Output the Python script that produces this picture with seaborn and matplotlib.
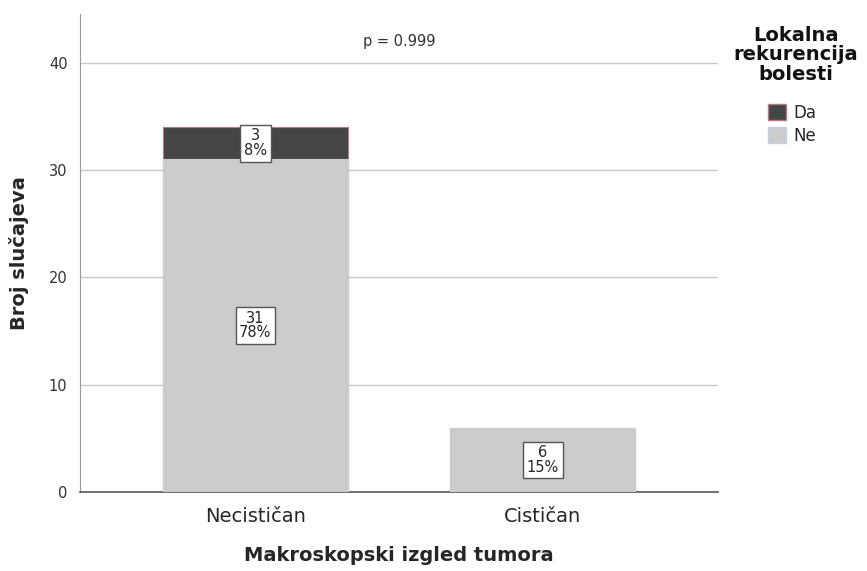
import pandas as pd
import numpy as np
import matplotlib.pyplot as plt
import seaborn as sns
from matplotlib.patches import Patch

categories = ['Necističan', 'Cističan']
da_counts = [3, 0]
ne_counts = [31, 6]
total_n = 40

sns.set_style('white')
plt.rcParams['font.family'] = ['DejaVu Sans']

df = pd.DataFrame({'kategorija': categories, 'Da': da_counts, 'Ne': ne_counts})
df['ukupno'] = df['Da'] + df['Ne']

fig = plt.figure(figsize=(8.67, 5.71), dpi=100)
ax = fig.add_axes([0.0923, 0.138, 0.736, 0.837])

# horizontal grid behind bars
for v in [10, 20, 30, 40]:
    ax.axhline(v, color='#c8c8c8', lw=1, zorder=0)

# stacked bars: total (Da on top) then Ne over it
sns.barplot(data=df, x='kategorija', y='ukupno', color='#444546', width=0.645,
            edgecolor='#b07d86', linewidth=0.8, ax=ax, zorder=2)
sns.barplot(data=df, x='kategorija', y='Ne', color='#cccccc', width=0.645,
            edgecolor='#cccccc', linewidth=0.8, ax=ax, zorder=3)
for p in ax.patches:
    p.set_alpha(1)

box = dict(boxstyle='square,pad=0.25', fc='white', ec='#555555', lw=1)
for i, (da, ne) in enumerate(zip(df['Da'], df['Ne'])):
    if da > 0:
        ax.text(i, ne + da / 2, f'{da}\n{round(100 * da / total_n)}%', ha='center', va='center',
                fontsize=10.5, linespacing=0.95, bbox=box, zorder=5)
    ax.text(i, ne / 2, f'{ne}\n{round(100 * ne / total_n)}%', ha='center', va='center',
            fontsize=10.5, linespacing=0.95, bbox=box, zorder=5)

ax.text(0.5, 42.0, 'p = 0.999', ha='center', va='center', fontsize=10.5, color='#333333')

ax.set_xlim(-0.61, 1.61)
ax.set_ylim(0, 44.5)
ax.set_yticks([0, 10, 20, 30, 40])
ax.tick_params(axis='y', labelsize=10.5, colors='#333333', length=0, pad=9)
ax.tick_params(axis='x', labelsize=14, length=0, pad=11)
ax.set_xlabel('Makroskopski izgled tumora', fontsize=14, fontweight='bold', labelpad=14)
ax.set_ylabel('Broj slučajeva', fontsize=14, fontweight='bold', labelpad=14)

for s in ['top', 'right']:
    ax.spines[s].set_visible(False)
ax.spines['left'].set_color('#999999')
ax.spines['bottom'].set_color('#555555')
ax.spines['bottom'].set_linewidth(1.2)

fig.text(796 / 867, 1 - 55 / 571, 'Lokalna\nrekurencija\nbolesti', ha='center', va='center',
         multialignment='center', fontsize=14, fontweight='bold', linespacing=1.05, color='#111111')

handles = [Patch(facecolor='#444546', edgecolor='#b07d86', label='Da'),
           Patch(facecolor='#cccccc', edgecolor='#c5d3e3', label='Ne')]
leg = fig.legend(handles=handles, loc='upper left', bbox_to_anchor=(768 / 867, 1 - 104 / 571),
                 frameon=False, fontsize=12, handlelength=1.1, handleheight=1.1,
                 handletextpad=0.4, labelspacing=0.3, borderaxespad=0.0, borderpad=0.0)

fig.savefig('out.png', dpi=100)
